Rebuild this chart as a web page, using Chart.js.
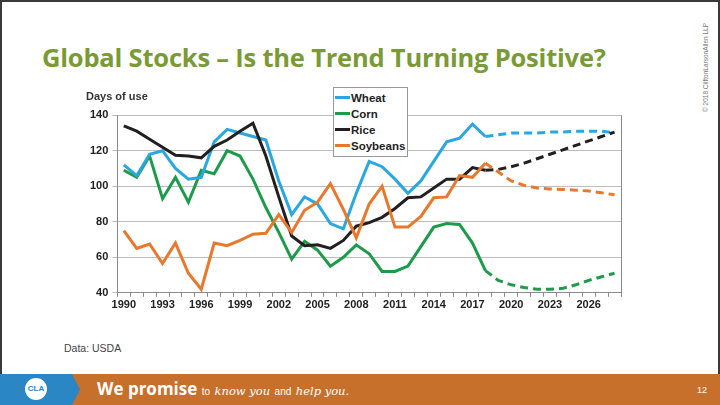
<!DOCTYPE html>
<html>
<head>
<meta charset="utf-8">
<script src="https://cdn.jsdelivr.net/npm/chart.js@4"></script>
<style>
  html, body { margin: 0; padding: 0; }
  body { width: 720px; height: 405px; position: relative; overflow: hidden; background: #fff; font-family: "Liberation Sans", Arial, sans-serif; }
  #frame { position: absolute; left: 0; top: 0; width: 716px; height: 401px; border: 2px solid #3a3a3a; border-bottom: none; }
  #title { position: absolute; left: 42px; top: 40px; font-family: "Open Sans", sans-serif; font-weight: 700; font-size: 25.5px; color: #7a9a36; white-space: nowrap; letter-spacing: -0.2px; }
  #copy { position: absolute; left: 702px; top: 112px; transform: rotate(-90deg); transform-origin: left top; font-size: 6.5px; color: #777; white-space: nowrap; }
  #wrap { position: absolute; left: 84px; top: 86px; width: 550px; height: 228px; }
  #legend { position: absolute; left: 333px; top: 87px; width: 73px; padding: 2px 0 2px 0; border: 1px solid #999; background: #fff; font-weight: 700; font-size: 11.5px; color: #222; }
  #legend div { height: 16px; line-height: 16px; white-space: nowrap; }
  #legend span { display: inline-block; width: 15px; height: 3px; vertical-align: middle; margin: 0 1px 2px 1px; }
  #source { position: absolute; left: 64px; top: 342px; font-size: 10.5px; color: #444; }
  #band { position: absolute; left: 0; top: 374px; width: 720px; height: 31px; background: #c6702c; }
  #chev { position: absolute; left: 0; top: 374px; width: 80px; height: 31px; background: #2b86c5; clip-path: polygon(0 0, 72px 0, 80px 50%, 72px 100%, 0 100%); }
  #logo { position: absolute; left: 25px; top: 378px; width: 22px; height: 22px; border-radius: 50%; background: #fff; color: #2b86c5; font-size: 8px; font-weight: 700; text-align: center; line-height: 22px; }
  #promise { position: absolute; left: 97px; top: 377px; color: #fff; white-space: nowrap; }
  #promise b { font-family: "Open Sans", sans-serif; font-size: 17px; font-weight: 700; }
  #promise .s { font-size: 10px; }
  #promise i { font-family: "DejaVu Serif", serif; font-size: 11.5px; }
  #page { position: absolute; left: 697px; top: 385px; color: #fff; font-size: 9px; }
</style>
</head>
<body>
<div id="frame"></div>
<div id="title">Global Stocks – Is the Trend Turning Positive?</div>
<div id="copy">© 2018 CliftonLarsonAllen LLP</div>
<div id="wrap"><canvas id="myChart"></canvas></div>
<div id="legend"></div>
<div id="source">Data: USDA</div>
<div id="band"></div>
<div id="chev"></div>
<div id="logo">CLA</div>
<div id="promise"><b>We promise</b> <span class="s">to</span> <i>know you</i> <span class="s">and</span> <i>help you.</i></div>
<div id="page">12</div>
<script>
// years 1990..2028, values after 2018 are USDA projections (dashed)
var years = [];
for (var y = 1990; y <= 2028; y++) years.push(String(y));
var projectionStart = 28; // index of 2018

var wheat = [112, 106, 118, 120, 110, 104, 105, 125, 132, 130, 128, 126, 103, 84, 94, 90, 79, 76,
             96, 114, 111, 104, 96, 103, 114, 125, 127, 135, 128,
             129, 130, 130, 130, 130.5, 130.5, 131, 131, 131, 130];
var corn = [109, 105, 117, 93, 105, 91, 109, 107, 120, 117, 104, 88, 74, 59, 69, 64, 55, 60,
            67, 62, 52, 52, 55, 66, 77, 79, 78.5, 68, 52.5,
            47, 44.5, 43, 42, 42, 42.5, 44.5, 47, 49, 51];
var rice = [134, 131, 126.5, 122, 117.5, 117, 116, 122.5, 126, 131, 135.5, 117, 94, 72, 66.5, 67, 65, 69.5,
            77.5, 79.5, 82.5, 87.5, 93.5, 94, 99, 104, 104, 110.5, 109,
            109.5, 111, 113, 115.5, 118, 120.5, 123, 125.5, 128, 130.5];
var soybeans = [75, 65, 67.5, 56.5, 68, 51, 42, 68, 66.5, 69.5, 73, 73.5, 84, 74, 86.5, 91, 101.5, 87,
                71, 90, 100, 77, 77, 83, 93.5, 94, 106, 105, 113,
                108, 103, 100.5, 99, 98.5, 98.2, 97.8, 97.3, 96.3, 95.2];

var yTicks = [40, 60, 80, 100, 120, 140];

var dashed = function(ctx) {
  return ctx.p0DataIndex >= projectionStart ? [8, 5] : undefined;
};

function line(label, data, color, order) {
  return {
    label: label,
    data: data,
    borderColor: color,
    backgroundColor: color,
    borderWidth: 3,
    pointRadius: 0,
    tension: 0,
    order: order,
    segment: { borderDash: dashed }
  };
}

var frame = {
  id: 'frame',
  afterDatasetsDraw: function(chart) {
    var a = chart.chartArea, c = chart.ctx;
    c.save();
    c.strokeStyle = '#8a8a8a';
    c.lineWidth = 1;
    c.beginPath();
    c.moveTo(a.right + 0.5, a.top);
    c.lineTo(a.right + 0.5, a.bottom);
    c.stroke();
    c.restore();
  }
};

var ctx = document.getElementById("myChart").getContext('2d');
var config = {
  type: 'line',
  data: {
    labels: years,
    datasets: [
      line('Wheat', wheat, '#2aa7df', 2),
      line('Corn', corn, '#1e9a4b', 3),
      line('Rice', rice, '#231f20', 1),
      line('Soybeans', soybeans, '#e8782c', 0)
    ]
  },
  options: {
    responsive: true,
    maintainAspectRatio: false,
    animation: false,
    layout: { padding: { left: 2, right: 13, top: 0, bottom: 0 } },
    plugins: {
      legend: { display: false },
      tooltip: { enabled: false },
      title: {
        display: true,
        text: 'Days of use',
        align: 'start',
        color: '#333',
        font: { family: 'Liberation Sans', size: 11, weight: 'bold' },
        padding: { top: 4, bottom: 12 }
      }
    },
    scales: {
      x: {
        type: 'category',
        offset: true,
        border: { color: '#8a8a8a' },
        grid: { display: true, drawOnChartArea: false, offset: true, tickLength: 4, color: '#8a8a8a' },
        ticks: {
          autoSkip: false,
          maxRotation: 0,
          padding: 2,
          color: '#222',
          font: { family: 'Liberation Sans', size: 11, weight: 'bold' },
          callback: function(v, i) { return i % 3 === 0 && i < 37 ? years[i] : ''; }
        }
      },
      y: {
        min: 40,
        max: 140,
        afterBuildTicks: function(s) { s.ticks = yTicks.map(function(v) { return { value: v }; }); },
        border: { color: '#8a8a8a' },
        grid: { color: '#bdbdbd', tickLength: 5 },
        ticks: {
          padding: 4,
          color: '#222',
          font: { family: 'Liberation Sans', size: 11, weight: 'bold' }
        }
      }
    }
  },
  plugins: [frame]
};
var myChart = new Chart(ctx, config);

// legend box built from the datasets
var legend = document.getElementById('legend');
myChart.data.datasets.forEach(function(ds) {
  var row = document.createElement('div');
  var sw = document.createElement('span');
  sw.style.background = ds.borderColor;
  row.appendChild(sw);
  row.appendChild(document.createTextNode(ds.label));
  legend.appendChild(row);
});
</script>
</body>
</html>
